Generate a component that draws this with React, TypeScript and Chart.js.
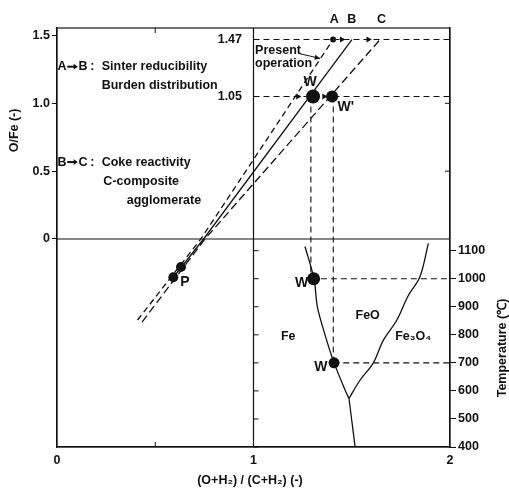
import { useEffect, useRef } from "react";
import { Chart, registerables } from "chart.js";
Chart.register(...registerables);

const FONT = '"Liberation Sans", Arial, Helvetica, sans-serif';
const INK = "#111";
const WEIGHT = "bold";

// axis ticks
const X_TICKS = [0, 1, 2];
const OFE_TICKS = [0, 0.5, 1.0, 1.5];
const TEMP_TICKS = [400, 500, 600, 700, 800, 900, 1000, 1100];

// operating lines (x = (O+H2)/(C+H2), y = O/Fe)
const LINE_A_X = [0.41, 0.732, 1.405];
const LINE_A_Y = [-0.597, 0, 1.47];
const LINE_B_X = [0.592, 0.746, 1.501];
const LINE_B_Y = [-0.282, 0, 1.47];
const LINE_C_X = [0.433, 0.753, 1.644];
const LINE_C_Y = [-0.612, 0, 1.47];

// points
const P_X = [0.631, 0.592];
const P_Y = [-0.206, -0.282];
const W_TOP_X = [1.303, 1.40];
const W_TOP_Y = [1.05, 1.05];
const W_LOW_X = [1.306, 1.41];
const W_LOW_T = [1000, 700];
const A_DOT_X = [1.405];
const A_DOT_Y = [1.47];
const ARROW_X = [1.449, 1.584, 1.226, 1.359];
const ARROW_Y = [1.47, 1.47, 1.05, 1.05];

// phase boundaries (x, temperature)
const FE_FEO_X = [1.262, 1.308, 1.325, 1.364, 1.41, 1.468, 1.486];
const FE_FEO_T = [1115, 1000, 900, 800, 700, 600, 573];
const FE_FE3O4_X = [1.486, 1.517];
const FE_FE3O4_T = [573, 400];
const FEO_FE3O4_X = [1.486, 1.542, 1.61, 1.661, 1.729, 1.788, 1.847, 1.89];
const FEO_FE3O4_T = [573, 638, 700, 781, 852, 940, 1007, 1126];

// dashed guide levels
const GUIDE_OFE = [1.47, 1.05];
const GUIDE_W_X = [1.292, 1.406];
const GUIDE_W_T = [1000, 700];

const zip = (xs: number[], ys: number[]) => xs.map((x, i) => ({ x, y: ys[i] }));

type Note = { t: string; x: number; y: number; ax: "y" | "yT"; align?: CanvasTextAlign; size?: number };
const NOTES: Note[] = [
  { t: "A", x: 1.411, y: 1.614, ax: "y" },
  { t: "B", x: 1.5, y: 1.614, ax: "y" },
  { t: "C", x: 1.652, y: 1.614, ax: "y" },
  { t: "Present", x: 1.008, y: 1.39, ax: "y", align: "left" },
  { t: "operation", x: 1.008, y: 1.293, ax: "y", align: "left" },
  { t: "W", x: 1.288, y: 1.159, ax: "y", size: 14 },
  { t: "W'", x: 1.47, y: 0.975, ax: "y", size: 14 },
  { t: "1.47", x: 0.9415, y: 1.47, ax: "y", align: "right" },
  { t: "1.05", x: 0.9415, y: 1.05, ax: "y", align: "right" },
  { t: "P", x: 0.651, y: -0.315, ax: "y", size: 14 },
  { t: "A", x: 0.003, y: 1.27, ax: "y", align: "left" },
  { t: "B", x: 0.11, y: 1.27, ax: "y", align: "left" },
  { t: ":", x: 0.18, y: 1.27, ax: "y" },
  { t: "Sinter reducibility", x: 0.2275, y: 1.27, ax: "y", align: "left" },
  { t: "Burden distribution", x: 0.2275, y: 1.13, ax: "y", align: "left" },
  { t: "B", x: 0.003, y: 0.567, ax: "y", align: "left" },
  { t: "C", x: 0.11, y: 0.567, ax: "y", align: "left" },
  { t: ":", x: 0.18, y: 0.567, ax: "y" },
  { t: "Coke reactivity", x: 0.2275, y: 0.567, ax: "y", align: "left" },
  { t: "C-composite", x: 0.236, y: 0.42, ax: "y", align: "left" },
  { t: "agglomerate", x: 0.355, y: 0.287, ax: "y", align: "left" },
  { t: "W", x: 1.245, y: 984, ax: "yT", size: 14 },
  { t: "W", x: 1.343, y: 686, ax: "yT", size: 14 },
  { t: "FeO", x: 1.581, y: 867, ax: "yT" },
  { t: "Fe", x: 1.177, y: 793, ax: "yT" },
  { t: "Fe₃O₄", x: 1.813, y: 793, ax: "yT" },
];

// "→" glyphs in the legend text (x from, x to, y)
const TEXT_ARROW_X0 = [0.052, 0.052];
const TEXT_ARROW_X1 = [0.106, 0.106];
const TEXT_ARROW_Y = [1.27, 0.567];

const POINTER_X = [1.228, 1.339];
const POINTER_Y = [1.368, 1.331];

const arrowHead = (ctx: CanvasRenderingContext2D, x: number, y: number, ang: number, len: number, spread: number) => {
  ctx.beginPath();
  ctx.moveTo(x, y);
  ctx.lineTo(x - len * Math.cos(ang - spread), y - len * Math.sin(ang - spread));
  ctx.lineTo(x - len * Math.cos(ang + spread), y - len * Math.sin(ang + spread));
  ctx.closePath();
  ctx.fill();
};

const overlay = {
  id: "overlay",
  beforeDatasetsDraw(chart: any) {
    const { ctx, chartArea: a, scales } = chart;
    const xs = scales.x, ys = scales.y, ts = scales.yT;
    const seg = (x1: number, y1: number, x2: number, y2: number) => {
      ctx.beginPath();
      ctx.moveTo(x1, y1);
      ctx.lineTo(x2, y2);
      ctx.stroke();
    };
    ctx.save();
    ctx.strokeStyle = INK;
    ctx.lineWidth = 1.2;
    ctx.strokeRect(a.left, a.top, a.right - a.left, a.bottom - a.top);
    seg(a.left, ys.getPixelForValue(0), a.right, ys.getPixelForValue(0));
    const x1 = xs.getPixelForValue(1);
    seg(x1, a.top, x1, a.bottom);
    ctx.lineWidth = 1;
    TEMP_TICKS.forEach((t) => seg(x1, ts.getPixelForValue(t), x1 + 5, ts.getPixelForValue(t)));
    [0.5, 1.0].forEach((v) => seg(a.right - 5, ys.getPixelForValue(v), a.right, ys.getPixelForValue(v)));
    const xh = xs.getPixelForValue(0.5);
    seg(xh, a.top, xh, a.top + 5);
    seg(xh, a.bottom, xh, a.bottom - 5);
    ctx.setLineDash([6, 4]);
    ctx.lineWidth = 1.1;
    GUIDE_OFE.forEach((v) => seg(x1, ys.getPixelForValue(v), a.right, ys.getPixelForValue(v)));
    GUIDE_W_X.forEach((gx, i) => {
      const px = xs.getPixelForValue(gx);
      seg(px, ys.getPixelForValue(1.05), px, ts.getPixelForValue(GUIDE_W_T[i]));
      seg(px, ts.getPixelForValue(GUIDE_W_T[i]), a.right, ts.getPixelForValue(GUIDE_W_T[i]));
    });
    ctx.restore();
  },
  afterDatasetsDraw(chart: any) {
    const { ctx, chartArea: a, scales } = chart;
    const xs = scales.x, ys = scales.y, ts = scales.yT;
    ctx.save();
    ctx.fillStyle = INK;
    ctx.strokeStyle = INK;
    ctx.textBaseline = "middle";
    NOTES.forEach((n) => {
      ctx.font = `${WEIGHT} ${n.size ?? 12.5}px ${FONT}`;
      ctx.textAlign = n.align ?? "center";
      const py = n.ax === "y" ? ys.getPixelForValue(n.y) : ts.getPixelForValue(n.y);
      ctx.fillText(n.t, xs.getPixelForValue(n.x), py);
    });
    ctx.lineWidth = 2;
    TEXT_ARROW_Y.forEach((ty, i) => {
      const py = ys.getPixelForValue(ty);
      const xa = xs.getPixelForValue(TEXT_ARROW_X0[i]);
      const xb = xs.getPixelForValue(TEXT_ARROW_X1[i]);
      ctx.beginPath();
      ctx.moveTo(xa, py);
      ctx.lineTo(xb - 3, py);
      ctx.stroke();
      arrowHead(ctx, xb, py, 0, 5, 0.6);
    });
    const p0x = xs.getPixelForValue(POINTER_X[0]), p0y = ys.getPixelForValue(POINTER_Y[0]);
    const p1x = xs.getPixelForValue(POINTER_X[1]), p1y = ys.getPixelForValue(POINTER_Y[1]);
    ctx.lineWidth = 1;
    ctx.beginPath();
    ctx.moveTo(p0x, p0y);
    ctx.lineTo(p1x, p1y);
    ctx.stroke();
    arrowHead(ctx, p1x, p1y, Math.atan2(p1y - p0y, p1x - p0x), 6, 0.45);
    ctx.font = `${WEIGHT} 12.5px ${FONT}`;
    ctx.textAlign = "center";
    ctx.fillText("(O+H₂) / (C+H₂) (-)", xs.getPixelForValue(0.982), a.bottom + 34);
    ctx.save();
    ctx.translate(a.left - 42, ys.getPixelForValue(0.8));
    ctx.rotate(-Math.PI / 2);
    ctx.fillText("O/Fe (-)", 0, 0);
    ctx.restore();
    ctx.save();
    ctx.translate(a.right + 53, ts.getPixelForValue(753));
    ctx.rotate(-Math.PI / 2);
    ctx.fillText("Temperature (℃)", 0, 0);
    ctx.restore();
    ctx.restore();
  },
};

export default function App() {
  const ref = useRef<HTMLCanvasElement>(null);
  useEffect(() => {
    if (!ref.current) return;
    Chart.defaults.font.family = FONT;
    Chart.defaults.color = INK;
    const lineDs = (xs: number[], ys: number[], dash: number[], axis = "y", tension = 0) => ({
      type: "line" as const,
      data: zip(xs, ys),
      yAxisID: axis,
      borderColor: INK,
      borderWidth: 1.3,
      borderDash: dash,
      pointRadius: 0,
      fill: false,
      tension,
    });
    const dotDs = (xs: number[], ys: number[], r: number, axis = "y", style = "circle", rot = 0) => ({
      type: "line" as const,
      data: zip(xs, ys),
      yAxisID: axis,
      showLine: false,
      pointRadius: r,
      pointStyle: style,
      rotation: rot,
      pointBackgroundColor: INK,
      pointBorderColor: INK,
      pointBorderWidth: 0,
    });
    const tickFont = { size: 12.5, weight: WEIGHT as any };
    const chart = new Chart(ref.current, {
      type: "line",
      data: {
        datasets: [
          lineDs(LINE_A_X, LINE_A_Y, [6, 4]),
          lineDs(LINE_B_X, LINE_B_Y, []),
          lineDs(LINE_C_X, LINE_C_Y, [8, 4]),
          lineDs(FE_FEO_X, FE_FEO_T, [], "yT", 0.3),
          lineDs(FE_FE3O4_X, FE_FE3O4_T, [], "yT"),
          lineDs(FEO_FE3O4_X, FEO_FE3O4_T, [], "yT", 0.35),
          dotDs(P_X, P_Y, 5),
          dotDs(W_TOP_X.slice(0, 1), W_TOP_Y.slice(0, 1), 7),
          dotDs(W_TOP_X.slice(1), W_TOP_Y.slice(1), 6),
          dotDs(W_LOW_X.slice(0, 1), W_LOW_T.slice(0, 1), 6.5, "yT"),
          dotDs(W_LOW_X.slice(1), W_LOW_T.slice(1), 5.5, "yT"),
          dotDs(A_DOT_X, A_DOT_Y, 3),
          dotDs(ARROW_X, ARROW_Y, 3.5, "y", "triangle", 90),
        ] as any,
      },
      options: {
        responsive: false,
        animation: false,
        layout: { padding: { top: 28, left: 0, right: 0, bottom: 0 } },
        plugins: { legend: { display: false }, tooltip: { enabled: false } },
        scales: {
          x: {
            type: "linear",
            min: 0,
            max: 2,
            afterBuildTicks: (s: any) => { s.ticks = X_TICKS.map((v) => ({ value: v })); },
            afterFit: (s: any) => { s.height = 45; },
            grid: { display: false, drawTicks: false },
            border: { display: true, color: INK, width: 1.2 },
            ticks: { padding: 6, font: tickFont, color: INK, callback: (v: any) => String(v) },
          },
          y: {
            type: "linear",
            position: "left",
            min: -1.533,
            max: 1.555,
            afterBuildTicks: (s: any) => { s.ticks = OFE_TICKS.map((v) => ({ value: v })); },
            afterFit: (s: any) => { s.width = 57; },
            grid: { drawOnChartArea: false, drawTicks: true, tickLength: 5, color: INK },
            border: { display: true, color: INK, width: 1.2 },
            ticks: { padding: 2, font: tickFont, color: INK, callback: (v: any) => (v === 0 ? "0" : Number(v).toFixed(1)) },
          },
          yT: {
            type: "linear",
            position: "right",
            min: 400,
            max: 1894,
            afterBuildTicks: (s: any) => { s.ticks = TEMP_TICKS.map((v) => ({ value: v })); },
            afterFit: (s: any) => { s.width = 59; },
            grid: { drawOnChartArea: false, drawTicks: true, tickLength: 6, color: INK },
            border: { display: true, color: INK, width: 1.2 },
            ticks: { padding: 2, font: tickFont, color: INK, callback: (v: any) => String(v) },
          },
        },
      },
      plugins: [overlay],
    });
    return () => chart.destroy();
  }, []);
  return (
    <div style={{ position: "fixed", left: 0, top: 0, background: "#fff" }}>
      <canvas ref={ref} width={509} height={492} />
    </div>
  );
}
